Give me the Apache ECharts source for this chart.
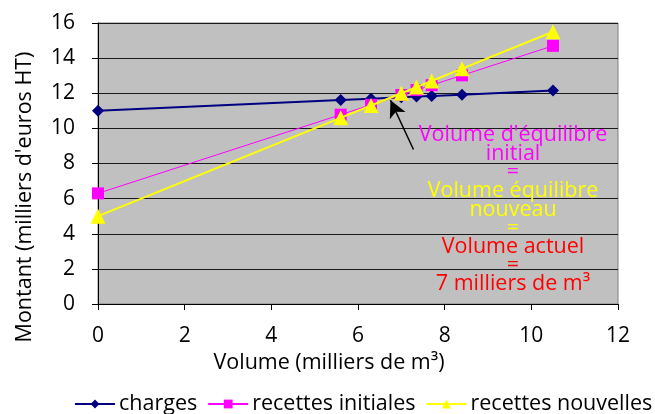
<!DOCTYPE html>
<html>
<head>
<meta charset="utf-8">
<script src="https://cdn.jsdelivr.net/npm/echarts@6/dist/echarts.min.js"></script>
<style>
  html, body { margin: 0; padding: 0; background: #fff; }
  #chart { width: 655px; height: 414px; }
</style>
</head>
<body>
<div id="chart"></div>
<script>
// Volumes (milliers de m³)
const volumes = [0, 5.6, 6.3, 7, 7.35, 7.7, 8.4, 10.5];
// Montants (milliers d'euros HT)
const charges = [11, 11.62, 11.69, 11.77, 11.81, 11.85, 11.92, 12.16];
const recettesInitiales = [6.3, 10.78, 11.34, 11.9, 12.18, 12.46, 13.02, 14.7];
const recettesNouvelles = [5, 10.6, 11.3, 12, 12.35, 12.7, 13.4, 15.5];
const xTicks = [0, 2, 4, 6, 8, 10, 12];
const yTicks = [0, 2, 4, 6, 8, 10, 12, 14, 16];
// Arrow pointing at the break-even volume: [tail, head]
const arrowFrom = [7.28, 8.8];
const arrowTo = [6.75, 11.6];

const font = '"Open Sans", Lato, sans-serif';
const pair = (ys) => volumes.map((v, i) => [v, ys[i]]);

const chart = echarts.init(document.getElementById('chart'), null, { renderer: 'canvas' });

const noteLines = [
  { text: "Volume d'équilibre", color: '#FF00FF' },
  { text: 'initial', color: '#FF00FF' },
  { text: '=', color: '#FF00FF' },
  { text: 'Volume équilibre', color: '#FFFF00' },
  { text: 'nouveau', color: '#FFFF00' },
  { text: '=', color: '#FFFF00' },
  { text: 'Volume actuel', color: '#FF0000' },
  { text: '=', color: '#FF0000' },
  { text: '7 milliers de m³', color: '#FF0000' }
];

chart.setOption({
  animation: false,
  backgroundColor: '#fff',
  grid: {
    left: 98, right: 37, top: 23, bottom: 110,
    show: true, backgroundColor: '#C0C0C0', borderColor: '#808080', borderWidth: 1
  },
  xAxis: {
    type: 'value', min: 0, max: 12, interval: 2,
    axisLine: { show: true, lineStyle: { color: '#000', width: 1 } },
    axisTick: { show: true, length: 6, lineStyle: { color: '#000' } },
    axisLabel: { fontFamily: font, fontSize: 21, color: '#000', margin: 22,
      formatter: (v) => xTicks.includes(v) ? String(v) : '' },
    splitLine: { show: false }
  },
  yAxis: {
    type: 'value', min: 0, max: 16, interval: 2,
    axisLine: { show: true, lineStyle: { color: '#000', width: 1 } },
    axisTick: { show: true, length: 6, lineStyle: { color: '#000' } },
    axisLabel: { fontFamily: font, fontSize: 21, color: '#000', margin: 23,
      formatter: (v) => yTicks.includes(v) ? String(v) : '' },
    splitLine: { show: true, lineStyle: { color: '#1a1a1a', width: 1 } }
  },
  legend: {
    top: 393, left: 74, width: 600, padding: 0,
    itemWidth: 40, itemHeight: 11, itemGap: 10,
    textStyle: { fontFamily: font, fontSize: 21.5, color: '#000', padding: [0, 0, 0, -1] },
    data: ['charges', 'recettes initiales', 'recettes nouvelles']
  },
  series: [
    {
      name: 'charges', type: 'line', data: pair(charges),
      symbol: 'diamond', symbolSize: 12,
      itemStyle: { color: '#000080' },
      lineStyle: { color: '#000080', width: 2 },
      z: 2,
      markLine: {
        silent: true, symbol: ['none', 'arrow'], symbolSize: [13, 17],
        lineStyle: { color: '#000', width: 1.5, type: 'solid' },
        label: { show: false },
        data: [[{ coord: arrowFrom }, { coord: arrowTo }]]
      }
    },
    {
      name: 'recettes initiales', type: 'line', data: pair(recettesInitiales),
      symbol: 'rect', symbolSize: 12,
      itemStyle: { color: '#FF00FF' },
      lineStyle: { color: '#FF00FF', width: 1 },
      z: 3
    },
    {
      name: 'recettes nouvelles', type: 'line', data: pair(recettesNouvelles),
      symbol: 'triangle', symbolSize: 15,
      itemStyle: { color: '#FFFF00' },
      lineStyle: { color: '#FFFF00', width: 2 },
      z: 4
    }
  ],
  graphic: [
    {
      type: 'text', x: 25, y: 197, rotation: Math.PI / 2, z: 100,
      style: {
        text: "Montant (milliers d'euros HT)", fill: '#000', font: '21.5px ' + font,
        textAlign: 'center', textVerticalAlign: 'middle'
      }
    },
    {
      type: 'text', x: 329, y: 363, z: 100,
      style: {
        text: 'Volume (milliers de m³)', fill: '#000', font: '21.5px ' + font,
        textAlign: 'center', textVerticalAlign: 'middle'
      }
    }
  ].concat(noteLines.map((l, i) => ({
    type: 'text', x: 513, y: 135 + i * 18.6, z: 100,
    style: {
      text: l.text, fill: l.color, font: '21.5px ' + font,
      textAlign: 'center', textVerticalAlign: 'middle'
    }
  })))
});
</script>
</body>
</html>
